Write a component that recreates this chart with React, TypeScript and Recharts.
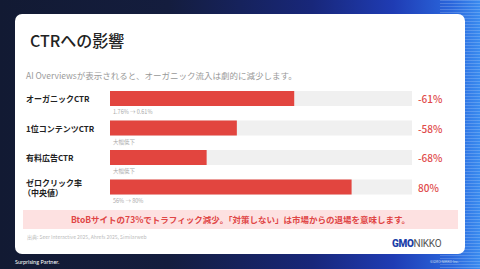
import React from "react";
import { BarChart, Bar, XAxis, YAxis, LabelList } from "recharts";

const categories = ["オーガニックCTR", "1位コンテンツCTR", "有料広告CTR", "ゼロクリック率\n（中央値）"];
const barValues = [61, 42, 32, 80];
const changeLabels = ["-61%", "-58%", "-68%", "80%"];
const noteLabels = ["1.76% → 0.61%", "大幅低下", "大幅低下", "56% → 80%"];

const data = categories.map((c, i) => ({
  name: c,
  value: barValues[i],
  change: changeLabels[i],
  note: noteLabels[i],
}));

const JP = '"Noto Sans CJK JP", "Noto Sans", sans-serif';

const LeftTick = (props: any) => {
  const { y, payload } = props;
  const lines = String(payload.value).split("\n");
  const lh = 10;
  const startY = y - ((lines.length - 1) * lh) / 2;
  return (
    <text fill="#222" fontSize={8} fontWeight={700} fontFamily={JP}>
      {lines.map((l, i) => (
        <tspan key={i} x={i === 0 ? 26 : 23} y={startY + i * lh} dominantBaseline="central">
          {l}
        </tspan>
      ))}
    </text>
  );
};

const RightTick = (props: any) => {
  const { y, payload, index } = props;
  return (
    <text x={418} y={y} fill="#e04848" fontSize={10} fontWeight={500} fontFamily={JP} dominantBaseline="central">
      {changeLabels[index] ?? payload.value}
    </text>
  );
};

const NoteLabel = (props: any) => {
  const { x, y, height, value } = props;
  return (
    <text x={x + 3} y={y + height + 6} fill="#aaa" fontSize={5.5} fontFamily={JP} dominantBaseline="central">
      {value}
    </text>
  );
};

export default function App() {
  return (
    <div
      style={{
        position: "absolute",
        left: 0,
        top: 0,
        width: 480,
        height: 269,
        overflow: "hidden",
        fontFamily: JP,
        background:
          "linear-gradient(to right, #121a33 0%, #141d3e 35%, #18277a 65%, #1f3cb4 82%, #2a66dc 94%, #3a8cf0 100%)",
      }}
    >
      <div
        style={{
          position: "absolute",
          right: 0,
          top: 0,
          width: 40,
          height: 269,
          background:
            "repeating-linear-gradient(to bottom, rgba(255,255,255,0.18) 0px, rgba(255,255,255,0.18) 1px, rgba(0,0,0,0) 1px, rgba(0,0,0,0) 3px)",
        }}
      />
      <div
        style={{
          position: "absolute",
          left: 15,
          top: 14,
          width: 450,
          height: 240,
          background: "#fff",
          borderRadius: 7,
        }}
      />
      <div style={{ position: "absolute", left: 30, top: 29, fontSize: 16, fontWeight: 500, color: "#222", lineHeight: "22px" }}>
        CTRへの影響
      </div>
      <div style={{ position: "absolute", left: 26, top: 69, fontSize: 8.5, color: "#999", lineHeight: "12px" }}>
        AI Overviewsが表示されると、オーガニック流入は劇的に減少します。
      </div>
      <div style={{ position: "absolute", left: 0, top: 84 }}>
        <BarChart
          width={480}
          height={130}
          data={data}
          layout="vertical"
          margin={{ top: 0, right: 0, bottom: 12, left: 0 }}
          barSize={15}
        >
          <XAxis type="number" domain={[0, 100]} hide />
          <YAxis
            yAxisId="l"
            type="category"
            dataKey="name"
            width={110}
            interval={0}
            axisLine={false}
            tickLine={false}
            tick={<LeftTick />}
          />
          <YAxis
            yAxisId="r"
            orientation="right"
            type="category"
            dataKey="change"
            width={68}
            interval={0}
            axisLine={false}
            tickLine={false}
            tick={<RightTick />}
          />
          <Bar yAxisId="l" dataKey="value" fill="#e2453f" background={{ fill: "#f0f0f0" }} isAnimationActive={false}>
            <LabelList dataKey="note" content={<NoteLabel />} />
          </Bar>
        </BarChart>
      </div>
      <div
        style={{
          position: "absolute",
          left: 23,
          top: 210,
          width: 435,
          height: 19,
          background: "#fde1e1",
          color: "#e04545",
          fontSize: 8.5,
          fontWeight: 700,
          textAlign: "center",
          lineHeight: "19px",
        }}
      >
        BtoBサイトの73%でトラフィック減少。「対策しない」は市場からの退場を意味します。
      </div>
      <div style={{ position: "absolute", left: 27, top: 233, fontSize: 5, color: "#bbb", lineHeight: "8px" }}>
        出典: Seer Interactive 2025, Ahrefs 2025, Similarweb
      </div>
      <div style={{ position: "absolute", left: 392, top: 236, fontSize: 10, lineHeight: "14px", letterSpacing: -0.3 }}>
        <span style={{ color: "#1d3fa8", fontWeight: 900, fontFamily: "Roboto, sans-serif" }}>GMO</span>
        <span style={{ color: "#555", fontWeight: 400, fontFamily: "Roboto, sans-serif" }}>NIKKO</span>
      </div>
      <div style={{ position: "absolute", left: 15, top: 258, fontSize: 5.5, color: "#fff", lineHeight: "8px", fontFamily: "Lato, sans-serif" }}>
        Surprising Partner.
      </div>
      <div style={{ position: "absolute", left: 430, top: 259, fontSize: 3.5, color: "#cde", lineHeight: "6px" }}>
        ©GMO NIKKO Inc.
      </div>
    </div>
  );
}
